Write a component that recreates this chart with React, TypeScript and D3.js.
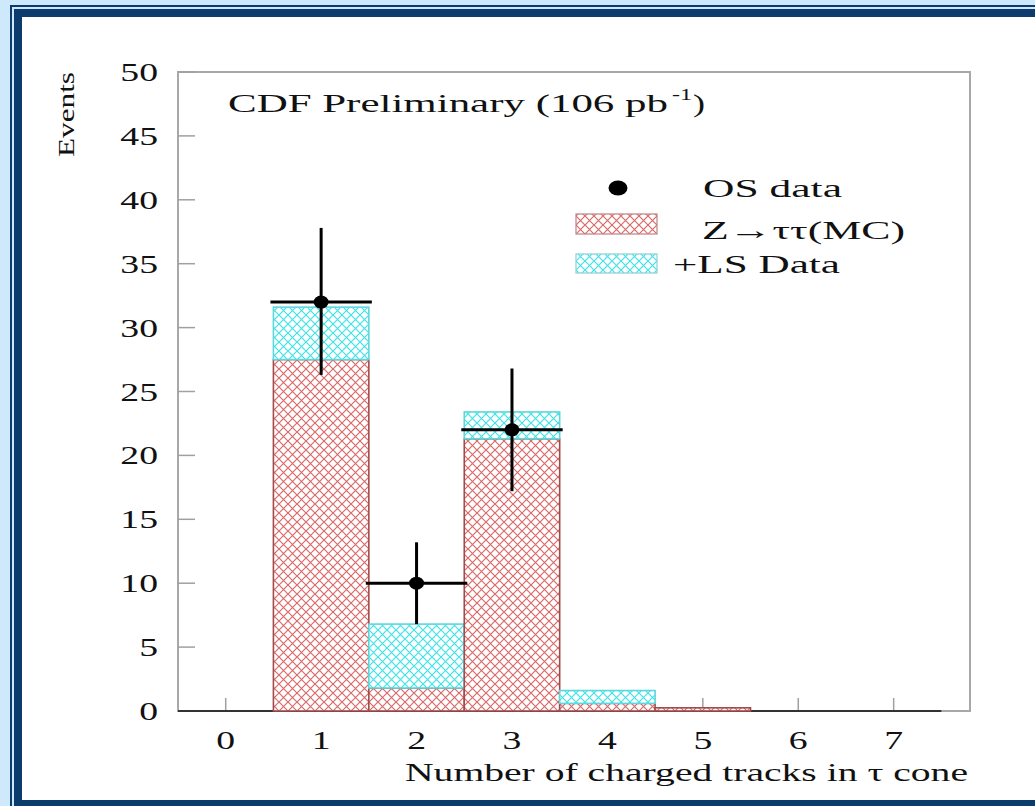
import React from "react";
import * as d3 from "d3";

const categories = [0, 1, 2, 3, 4, 5, 6, 7];
const zttMC = [0, 27.5, 1.8, 21.3, 0.6, 0.25, 0, 0];
const lsData = [0, 4.1, 5.0, 2.1, 1.0, 0, 0, 0];
const osBins = [1, 2, 3];
const osValues = [32, 10, 22];
const osErrLow = [26.3, 6.8, 17.2];
const osErrHigh = [37.8, 13.2, 26.8];
const yTicks = [0, 5, 10, 15, 20, 25, 30, 35, 40, 45, 50];
const xTicks = [0, 1, 2, 3, 4, 5, 6, 7];

const W = 1035;
const H = 806;
const NAVY = "#0b3c6d";
const LIGHT = "#cde9fb";
const FONT = "'Liberation Serif', 'DejaVu Serif', serif";

export default function App() {
  const x = d3.scaleLinear().domain([-0.5, 7.8]).range([178, 970]);
  const y = d3.scaleLinear().domain([0, 50]).range([711, 72]);
  const sx = 1.45;

  return (
    <svg
      width={W}
      height={H}
      style={{ position: "absolute", left: 0, top: 0, display: "block" }}
      fontFamily={FONT}
    >
      <defs>
        <pattern id="redHatch" width="9" height="9" patternUnits="userSpaceOnUse">
          <rect width="9" height="9" fill="#fff" />
          <path d="M0,0 L9,9 M9,0 L0,9" stroke="#d86a6a" strokeWidth="1.2" />
        </pattern>
        <pattern id="cyanHatch" width="9" height="9" patternUnits="userSpaceOnUse">
          <rect width="9" height="9" fill="#fff" />
          <path d="M0,0 L9,9 M9,0 L0,9" stroke="#3fe3e8" strokeWidth="1.2" />
        </pattern>
      </defs>

      {/* page frame */}
      <rect x={0} y={0} width={W} height={H} fill={LIGHT} />
      <rect x={11} y={6} width={W + 50} height={H + 50} fill="none" stroke={NAVY} strokeWidth={2} />
      <rect x={14} y={9} width={W + 50} height={H + 50} fill={NAVY} />
      <rect x={22} y={17} width={W + 50} height={800 - 17} fill="#fff" />

      {/* plot frame */}
      <rect x={x(-0.5)} y={y(50)} width={x(7.8) - x(-0.5)} height={y(0) - y(50)} fill="none" stroke="#a8a8a8" strokeWidth={2} />

      {/* y ticks */}
      {yTicks.map((t) => (
        <g key={"yt" + t}>
          <line x1={x(-0.5)} x2={x(-0.5) + 17} y1={y(t)} y2={y(t)} stroke="#a0a0a0" strokeWidth={1.5} />
          <text
            transform={`translate(158,${y(t) + 9}) scale(${sx},1)`}
            textAnchor="end"
            fontSize={26}
            fill="#111"
          >
            {t}
          </text>
        </g>
      ))}

      {/* x ticks */}
      {xTicks.map((t) => (
        <g key={"xt" + t}>
          <line x1={x(t)} x2={x(t)} y1={y(0)} y2={y(0) - 13} stroke="#a0a0a0" strokeWidth={1.5} />
          <text
            transform={`translate(${x(t)},749) scale(${sx},1)`}
            textAnchor="middle"
            fontSize={26}
            fill="#111"
          >
            {t}
          </text>
        </g>
      ))}

      {/* baseline of histogram */}
      <line x1={x(-0.5)} x2={x(7.5)} y1={y(0)} y2={y(0)} stroke="#333" strokeWidth={2} />

      {/* stacked histogram */}
      {categories.map((c, i) => {
        const x0 = x(c - 0.5);
        const x1 = x(c + 0.5);
        const r = zttMC[i];
        const l = lsData[i];
        return (
          <g key={"bar" + c}>
            {r > 0 && (
              <rect x={x0} y={y(r)} width={x1 - x0} height={y(0) - y(r)} fill="url(#redHatch)" stroke="#a24b4b" strokeWidth={1.6} />
            )}
            {l > 0 && (
              <rect x={x0} y={y(r + l)} width={x1 - x0} height={y(r) - y(r + l)} fill="url(#cyanHatch)" stroke="#5cd8dc" strokeWidth={1.6} />
            )}
          </g>
        );
      })}

      {/* OS data points */}
      {osBins.map((b, i) => (
        <g key={"pt" + b}>
          <line x1={x(b)} x2={x(b)} y1={y(osErrLow[i])} y2={y(osErrHigh[i])} stroke="#000" strokeWidth={3} />
          <line x1={x(b - 0.5) - 3} x2={x(b + 0.5) + 3} y1={y(osValues[i])} y2={y(osValues[i])} stroke="#000" strokeWidth={3} />
          <ellipse cx={x(b)} cy={y(osValues[i])} rx={7.5} ry={6.5} fill="#000" />
        </g>
      ))}

      {/* title */}
      <text x={228} y={112} fontSize={26} textLength={440} lengthAdjust="spacingAndGlyphs" fill="#111">
        CDF Preliminary (106 pb
      </text>
      <text x={672} y={100} fontSize={17} textLength={20} lengthAdjust="spacingAndGlyphs" fill="#111">
        -1
      </text>
      <text x={693} y={112} fontSize={26} textLength={12} lengthAdjust="spacingAndGlyphs" fill="#111">
        )
      </text>

      {/* legend */}
      <ellipse cx={618} cy={188} rx={9.5} ry={7.5} fill="#000" />
      <text x={703} y={197} fontSize={26} textLength={139} lengthAdjust="spacingAndGlyphs" fill="#111">
        OS data
      </text>
      <rect x={576} y={214} width={81} height={20} fill="url(#redHatch)" stroke="#c08080" strokeWidth={1.2} />
      <text x={702} y={239} fontSize={26} textLength={203} lengthAdjust="spacingAndGlyphs" fill="#111">
        Z→ττ(MC)
      </text>
      <rect x={576} y={254} width={81} height={19} fill="url(#cyanHatch)" stroke="#8ccfd3" strokeWidth={1.2} />
      <text x={673} y={273} fontSize={26} textLength={167} lengthAdjust="spacingAndGlyphs" fill="#111">
        +LS Data
      </text>

      {/* axis labels */}
      <text x={405} y={781} fontSize={26} textLength={563} lengthAdjust="spacingAndGlyphs" fill="#111">
        Number of charged tracks in τ cone
      </text>
      <text
        transform="translate(74,157) rotate(-90)"
        fontSize={24}
        textLength={85}
        lengthAdjust="spacingAndGlyphs"
        fill="#111"
      >
        Events
      </text>
    </svg>
  );
}
